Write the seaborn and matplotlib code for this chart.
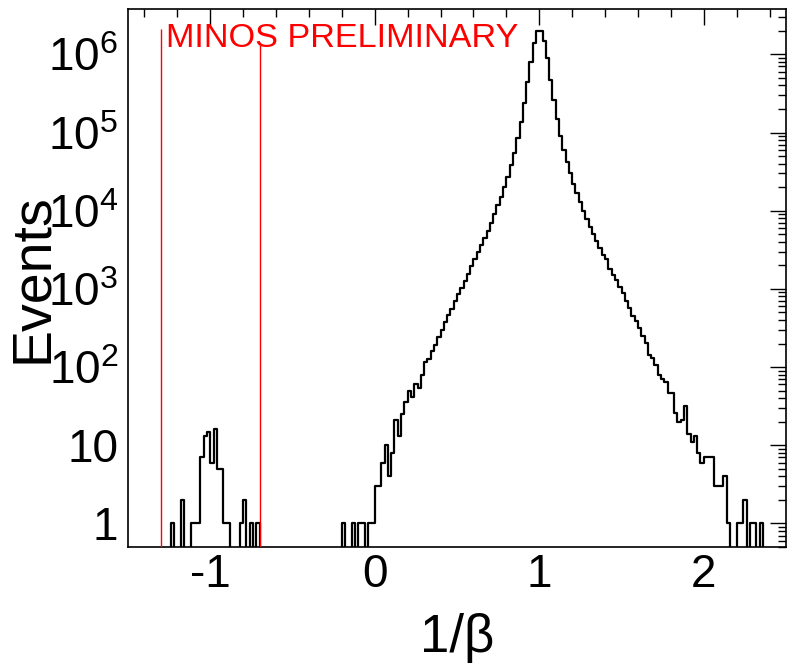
import numpy as np
import pandas as pd
import matplotlib
matplotlib.use("Agg")
import matplotlib.pyplot as plt
import seaborn as sns
from matplotlib.ticker import FixedLocator, MultipleLocator, LogLocator, NullFormatter

# ---------------- data ----------------
x_min, x_max, bin_width = -1.5, 2.5, 0.02

# left cluster (1/beta < 0), first bin lower edge
left_start = -1.24
left_counts = [1, 0, 0, 2, 0, 0, 1, 1, 1, 7, 13, 15, 6, 16, 5, 5, 1, 1,
               0, 0, 0, 1, 2, 0, 1, 0, 1]

# main peak, first bin lower edge
main_start = -0.20
main_counts = [1, 0, 0, 1, 0, 1, 1, 0, 1, 1, 3, 3, 6, 10, 4, 8, 21, 13, 25, 36,
               50, 42, 60, 54, 80, 116, 128, 159, 192, 243, 300, 376, 460, 560,
               700, 860, 1030, 1270, 1570, 1960, 2440, 2940, 3670, 4440, 5560,
               7000, 8950, 11700, 15100, 20300, 27300, 38500, 55200, 84400,
               137000, 236000, 446000, 802000, 1400000, 2000000, 2000000,
               1500000, 886000, 468000, 260000, 149000, 91000, 59800, 42400,
               30700, 22000, 16700, 13100, 10000, 7850, 6270, 5010, 4110, 3320,
               2720, 2400, 1790, 1510, 1300, 1070, 875, 710, 570, 453, 384, 320,
               250, 203, 144, 131, 107, 80, 70, 65, 46, 46, 26, 20, 21, 32, 14,
               11, 13, 8, 6, 7, 7, 7, 3, 3, 3, 4, 1, 0, 0, 1, 1, 2, 0, 1, 1, 0, 1]

cut_positions = [-1.3, -0.7]
cut_tops = [2.1e6, 1.3e6]
label_text = "MINOS PRELIMINARY"

x_ticks = [-1, 0, 1, 2]
x_tick_labels = ["-1", "0", "1", "2"]
y_ticks = [1, 10, 1e2, 1e3, 1e4, 1e5, 1e6]
y_tick_labels = ["1", "10", r"$\mathregular{10^{2}}$", r"$\mathregular{10^{3}}$",
                 r"$\mathregular{10^{4}}$", r"$\mathregular{10^{5}}$",
                 r"$\mathregular{10^{6}}$"]
y_min, y_max = 0.5, 3.8e6

# ---------------- build histogram table ----------------
n_bins = int(round((x_max - x_min) / bin_width))
edges = np.linspace(x_min, x_max, n_bins + 1)
centers = 0.5 * (edges[:-1] + edges[1:])
counts = np.zeros(n_bins)
i0 = int(round((left_start - x_min) / bin_width))
counts[i0:i0 + len(left_counts)] = left_counts
i1 = int(round((main_start - x_min) / bin_width))
counts[i1:i1 + len(main_counts)] = main_counts
df = pd.DataFrame({"inv_beta": centers, "events": counts})

# ---------------- style ----------------
sns.set_style("white")
plt.rcParams["font.family"] = ["Liberation Sans", "DejaVu Sans"]
plt.rcParams["axes.unicode_minus"] = False
plt.rcParams["mathtext.fontset"] = "custom"
plt.rcParams["mathtext.rm"] = "Liberation Sans"
plt.rcParams["mathtext.it"] = "Liberation Sans:italic"
plt.rcParams["mathtext.bf"] = "Liberation Sans:bold"
for k in ["text.color", "axes.labelcolor", "xtick.color", "ytick.color"]:
    plt.rcParams[k] = "black"

fig = plt.figure(figsize=(7.87, 6.65), dpi=100)
ax = fig.add_axes([128 / 787, 118 / 665, 658 / 787, 538 / 665])

sns.histplot(data=df, x="inv_beta", weights="events", bins=n_bins,
             binrange=(x_min, x_max), element="step", fill=False,
             color="black", linewidth=1.6, ax=ax)
ax.set_yscale("log")
ax.set_xlim(x_min, x_max)
ax.set_ylim(y_min, y_max)

for xc, yt in zip(cut_positions, cut_tops):
    ax.vlines(xc, y_min, yt, colors="red", linewidth=1.0, zorder=3)

ax.text(0.0577, 0.93, label_text, transform=ax.transAxes, color="red",
        fontsize=24.7, ha="left", va="baseline")

ax.xaxis.set_major_locator(FixedLocator(x_ticks))
ax.set_xticklabels(x_tick_labels)
ax.xaxis.set_minor_locator(MultipleLocator(0.2))
ax.yaxis.set_major_locator(FixedLocator(y_ticks))
ax.set_yticklabels(y_tick_labels)
ax.yaxis.set_minor_locator(LogLocator(base=10, subs=np.arange(2, 10), numticks=30))
ax.yaxis.set_minor_formatter(NullFormatter())

ax.tick_params(which="both", direction="in", top=True, right=True,
               color="black", labelcolor="black", width=1.0, labelsize=33)
ax.tick_params(which="major", length=11.5)
ax.tick_params(which="minor", length=5.8)
ax.tick_params(axis="x", which="major", pad=4)
ax.tick_params(axis="y", which="major", pad=7)

for s in ax.spines.values():
    s.set_color("black")
    s.set_linewidth(1.2)

ax.set_xlabel("1/β", fontsize=38, color="black")
ax.xaxis.set_label_coords(0.5, -0.123)
ax.set_ylabel("Events", fontsize=40, color="black")
ax.yaxis.set_label_coords(-0.105, 0.5)

fig.savefig("out.png", dpi=100, facecolor="white")
